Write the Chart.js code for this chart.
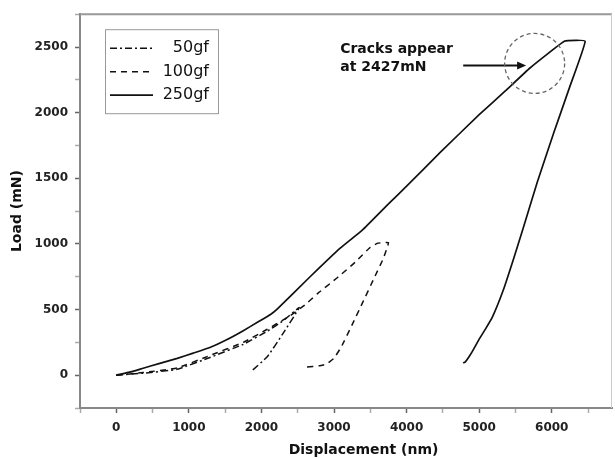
<!DOCTYPE html>
<html>
<head>
<meta charset="utf-8">
<title>Load - Displacement</title>
<script src="https://cdn.jsdelivr.net/npm/chart.js@4.4.1/dist/chart.umd.min.js"></script>
<style>
  body { margin: 0; background: #fff; }
  #wrap { width: 615px; height: 459px; }
</style>
</head>
<body>
<div id="wrap"><canvas id="loadChart" width="615" height="459"></canvas></div>
<script>
// displacement (nm) and load (mN), loading then unloading
const disp50 = [0, 370, 840, 1290, 1750, 2080, 2300, 2520, 2300, 2080, 1850];
const load50 = [0, 15, 45, 135, 235, 335, 415, 515, 320, 140, 25];

const disp100 = [0, 370, 840, 1290, 1750, 2080, 2400, 2600, 2780, 3040, 3290, 3500, 3600, 3750,
                 3680, 3540, 3400, 3250, 3100, 3000, 2900, 2800, 2620];
const load100 = [0, 20, 55, 150, 250, 350, 455, 535, 625, 740, 860, 975, 1005, 1010,
                 890, 725, 560, 385, 215, 130, 85, 72, 62];

const disp250 = [0, 200, 370, 600, 840, 1060, 1290, 1520, 1750, 1950, 2120, 2220,
                 2670, 3085, 3390, 3750, 4000, 4463, 5000, 5360, 5700, 6180, 6460,
                 6250, 6030, 5800, 5606, 5470, 5330, 5180, 5090, 5000, 4920, 4860, 4810, 4780];
const load250 = [0, 25, 53, 90, 128, 168, 211, 270, 339, 405, 460, 505,
                 750, 968, 1105, 1305, 1440, 1697, 1985, 2165, 2340, 2545, 2545,
                 2200, 1850, 1470, 1120, 880, 645, 440, 355, 275, 195, 140, 102, 93];

const seriesNames = ["50gf", "100gf", "250gf"];
const xTicks = [0, 1000, 2000, 3000, 4000, 5000, 6000];
const yTicks = [0, 500, 1000, 1500, 2000, 2500];

// annotation (data units)
const crackText = ["Cracks appear", "at 2427mN"];
const crackTextAt = [3085, 2481, 2345];
const arrowFrom = [4780, 2360];
const arrowTo = [5647, 2360];
const crackCircle = [5764, 2375];

function toPoints(xs, ys) {
  return xs.map((x, i) => ({ x: x, y: ys[i] }));
}

// major ticks plus the minor ones half a step away
function withMinor(major, lo, hi) {
  const half = (major[1] - major[0]) / 2;
  const out = [];
  for (let v = lo; v <= hi; v += half) out.push({ value: v });
  return out;
}

const dashes = [[7, 3, 2, 3], [6, 5], []];
const allDisp = [disp50, disp100, disp250];
const allLoad = [load50, load100, load250];

const datasets = seriesNames.map((name, i) => ({
  label: name,
  data: toPoints(allDisp[i], allLoad[i]),
  showLine: true,
  borderColor: "#111",
  borderWidth: i === 2 ? 1.7 : 1.5,
  borderDash: dashes[i],
  pointRadius: 0,
  tension: 0.1,
  fill: false
}));

// frame, legend box, x title, crack note
const extras = {
  id: "extras",
  afterDatasetsDraw(chart) {
    const { ctx, chartArea: a, scales: { x, y } } = chart;
    ctx.save();

    // top and right frame
    ctx.strokeStyle = "#999";
    ctx.lineWidth = 2;
    ctx.beginPath();
    ctx.moveTo(a.left, a.top);
    ctx.lineTo(a.right, a.top);
    ctx.stroke();
    ctx.strokeStyle = "#ccc";
    ctx.lineWidth = 1;
    ctx.beginPath();
    ctx.moveTo(a.right - 0.5, a.top);
    ctx.lineTo(a.right - 0.5, a.bottom);
    ctx.stroke();

    // legend
    const lx = a.left + 25, ly = a.top + 15;
    ctx.strokeStyle = "#999";
    ctx.lineWidth = 1;
    ctx.strokeRect(lx + 0.5, ly + 0.5, 113, 84);
    ctx.font = "16px 'DejaVu Sans'";
    ctx.fillStyle = "#111";
    ctx.textAlign = "right";
    ctx.textBaseline = "middle";
    seriesNames.forEach((name, i) => {
      const rowY = ly + 19 + i * 23.5;
      ctx.strokeStyle = "#111";
      ctx.lineWidth = i === 2 ? 1.8 : 1.6;
      ctx.setLineDash(dashes[i]);
      ctx.beginPath();
      ctx.moveTo(lx + 5, rowY);
      ctx.lineTo(lx + 48, rowY);
      ctx.stroke();
      ctx.setLineDash([]);
      ctx.fillText(name, lx + 104, rowY);
    });

    // x axis title
    ctx.font = "bold 14px 'DejaVu Sans'";
    ctx.textAlign = "center";
    ctx.fillText("Displacement (nm)", a.left + 0.533 * (a.right - a.left), 450);

    // crack annotation
    ctx.textAlign = "left";
    ctx.fillText(crackText[0], x.getPixelForValue(crackTextAt[0]), y.getPixelForValue(crackTextAt[1]));
    ctx.fillText(crackText[1], x.getPixelForValue(crackTextAt[0]), y.getPixelForValue(crackTextAt[2]));

    const ax0 = x.getPixelForValue(arrowFrom[0]), ay0 = y.getPixelForValue(arrowFrom[1]);
    const ax1 = x.getPixelForValue(arrowTo[0]), ay1 = y.getPixelForValue(arrowTo[1]);
    ctx.strokeStyle = "#111";
    ctx.lineWidth = 2;
    ctx.beginPath();
    ctx.moveTo(ax0, ay0);
    ctx.lineTo(ax1 - 6, ay1);
    ctx.stroke();
    ctx.beginPath();
    ctx.moveTo(ax1, ay1);
    ctx.lineTo(ax1 - 9, ay1 - 4);
    ctx.lineTo(ax1 - 9, ay1 + 4);
    ctx.closePath();
    ctx.fill();

    ctx.strokeStyle = "#666";
    ctx.lineWidth = 1.3;
    ctx.setLineDash([4, 3]);
    ctx.beginPath();
    ctx.arc(x.getPixelForValue(crackCircle[0]), y.getPixelForValue(crackCircle[1]), 30, 0, Math.PI * 2);
    ctx.stroke();
    ctx.restore();
  }
};

Chart.defaults.font.family = "'DejaVu Sans', sans-serif";

const tickFont = { size: 12, weight: "bold" };
const minorColor = (major) => (ctx) => (ctx.tick && major.includes(ctx.tick.value) ? "#666" : "#aaa");

new Chart(document.getElementById("loadChart"), {
  type: "scatter",
  data: { datasets },
  options: {
    responsive: false,
    animation: false,
    layout: { padding: { top: 12, right: 3, left: 0, bottom: 0 } },
    plugins: {
      legend: { display: false },
      tooltip: { enabled: false }
    },
    scales: {
      x: {
        type: "linear",
        min: -500,
        max: 6830,
        afterFit: (scale) => { scale.height = 51; },
        afterBuildTicks: (scale) => { scale.ticks = withMinor(xTicks, -500, 6500); },
        border: { color: "#888", width: 2 },
        grid: { drawOnChartArea: false, tickLength: 5, tickWidth: 1.5, tickColor: minorColor(xTicks) },
        ticks: {
          autoSkip: false,
          maxRotation: 0,
          padding: 8,
          color: "#222",
          font: tickFont,
          callback: (v) => (xTicks.includes(v) ? String(v) : "")
        }
      },
      y: {
        type: "linear",
        min: -250,
        max: 2750,
        afterFit: (scale) => { scale.width = 80; },
        afterBuildTicks: (scale) => { scale.ticks = withMinor(yTicks, -250, 2750); },
        border: { color: "#888", width: 2 },
        grid: { drawOnChartArea: false, tickLength: 5, tickWidth: 1.5, tickColor: minorColor(yTicks) },
        title: {
          display: true,
          text: "Load (mN)",
          color: "#111",
          font: { size: 14, weight: "bold" },
          padding: { top: 9, bottom: 0 }
        },
        ticks: {
          autoSkip: false,
          padding: 7,
          color: "#222",
          font: tickFont,
          callback: (v) => (yTicks.includes(v) ? String(v) : "")
        }
      }
    }
  },
  plugins: [extras]
});
</script>
</body>
</html>
